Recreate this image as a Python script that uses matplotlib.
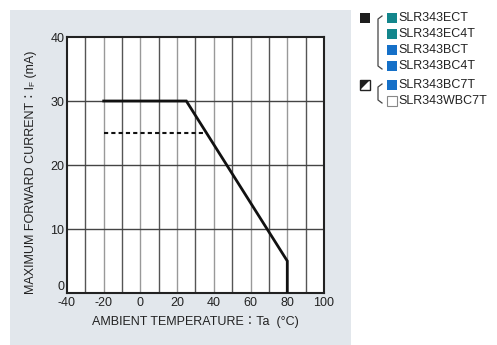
import matplotlib.pyplot as plt
from matplotlib.patches import Rectangle, Polygon

plt.rcParams['font.family'] = ['Liberation Sans', 'Noto Sans CJK JP', 'DejaVu Sans']
plt.rcParams['axes.unicode_minus'] = False

# courbe de derating
temp_solid = [-20, 25, 80, 80]
courant_solid = [30, 30, 5, 0]
temp_dot = [-20, 35]
courant_dot = [25, 25]

x_ticks = [-40, -20, 0, 20, 40, 60, 80, 100]
y_ticks = [0, 10, 20, 30, 40]

# legende
noms_groupe1 = ['SLR343ECT', 'SLR343EC4T', 'SLR343BCT', 'SLR343BC4T']
couleurs_groupe1 = ['#13868c', '#13868c', '#1570c8', '#1570c8']
noms_groupe2 = ['SLR343BC7T', 'SLR343WBC7T']
couleurs_groupe2 = ['#1570c8', '#ffffff']

W, H = 497, 345
fig = plt.figure(figsize=(W / 100, H / 100), dpi=100)
fig.patch.set_facecolor('white')

# panneau gris
fond = fig.add_axes([10 / W, 0, 341 / W, 1 - 10 / H])
fond.set_facecolor('#e2e7ec')
fond.set_xticks([])
fond.set_yticks([])
for s in fond.spines.values():
    s.set_visible(False)
fond.set_zorder(0)

ax = fig.add_axes([67 / W, 1 - 293 / H, 257 / W, 256 / H])
ax.set_zorder(1)
ax.set_facecolor('white')
ax.set_xlim(-40, 100)
ax.set_ylim(0, 40)
ax.set_xticks(x_ticks)
ax.set_yticks(y_ticks)
ax.tick_params(length=0, labelsize=9, colors='#222222')
ax.tick_params(axis='x', pad=3)
ax.tick_params(axis='y', pad=2)
# le "0" un peu au-dessus du coin
ax.get_yticklabels()[0].set_va('bottom')

for xv in range(-30, 100, 10):
    c = '#555555' if (xv // 10) % 2 else '#999999'
    ax.axvline(xv, color=c, lw=1, zorder=1)
for yv in [10, 20, 30]:
    ax.axhline(yv, color='#444444', lw=1, zorder=1)
for s in ax.spines.values():
    s.set_linewidth(1.5)
    s.set_color('#222222')

ax.plot(temp_solid, courant_solid, color='#111111', lw=2, zorder=3, solid_joinstyle='miter')
ax.plot(temp_dot, courant_dot, color='#111111', lw=1.5, ls=(0, (2, 1.5)), zorder=3)

ax.set_xlabel('AMBIENT TEMPERATURE\uff1aTa  (°C)', fontsize=9, labelpad=5, color='#222222')

# titre vertical en trois morceaux (I avec petit F)
renderer = fig.canvas.get_renderer()
morceaux = [('MAXIMUM FORWARD CURRENT\uff1aI', 9, 0), ('F', 6, 0), (' (mA)', 9, 0)]
x_lab = 34 / W
y_cur = 294
for txt, taille, dx in morceaux:
    t = fig.text(x_lab + dx / W, 1 - y_cur / H, txt, fontsize=taille, rotation=90,
                 rotation_mode='anchor', ha='left', va='baseline', color='#222222')
    y_cur -= t.get_window_extent(renderer).height

# legende a droite
def px(x, y):
    return (x / W, 1 - y / H)

def carre(x, y, fc, ec='none', taille=10):
    fig.patches.append(Rectangle(px(x, y + taille), taille / W, taille / H, transform=fig.transFigure,
                                 facecolor=fc, edgecolor=ec, lw=0.8))

lignes_y = [18, 34, 50, 66, 85, 101]
carre(360, 13, '#1e1e1e')
for i, (nom, c) in enumerate(zip(noms_groupe1, couleurs_groupe1)):
    y = lignes_y[i]
    carre(387, y - 5, c)
    fig.text(398 / W, 1 - y / H, nom, fontsize=9, va='center', ha='left', color='#222222')

# carre demi noir
fig.patches.append(Rectangle(px(360, 90), 10 / W, 10 / H, transform=fig.transFigure,
                             facecolor='white', edgecolor='#222222', lw=1))
fig.patches.append(Polygon([px(360, 90), px(370, 80), px(360, 80)], closed=True,
                           transform=fig.transFigure, facecolor='#1e1e1e', edgecolor='none'))
for i, (nom, c) in enumerate(zip(noms_groupe2, couleurs_groupe2)):
    y = lignes_y[4 + i]
    carre(387, y - 5, c, ec='#888888' if c == '#ffffff' else 'none')
    fig.text(398 / W, 1 - y / H, nom, fontsize=9, va='center', ha='left', color='#222222')

# accolades
def accolade(y0, y1):
    xs = [382, 378, 378, 382]
    ys = [y0, y0 + 3, y1 - 3, y1]
    fig.lines.append(plt.Line2D([x / W for x in xs], [1 - v / H for v in ys],
                                transform=fig.transFigure, color='#444444', lw=0.9))

accolade(16, 69)
accolade(84, 103)

fig.savefig('out.png', dpi=100)
